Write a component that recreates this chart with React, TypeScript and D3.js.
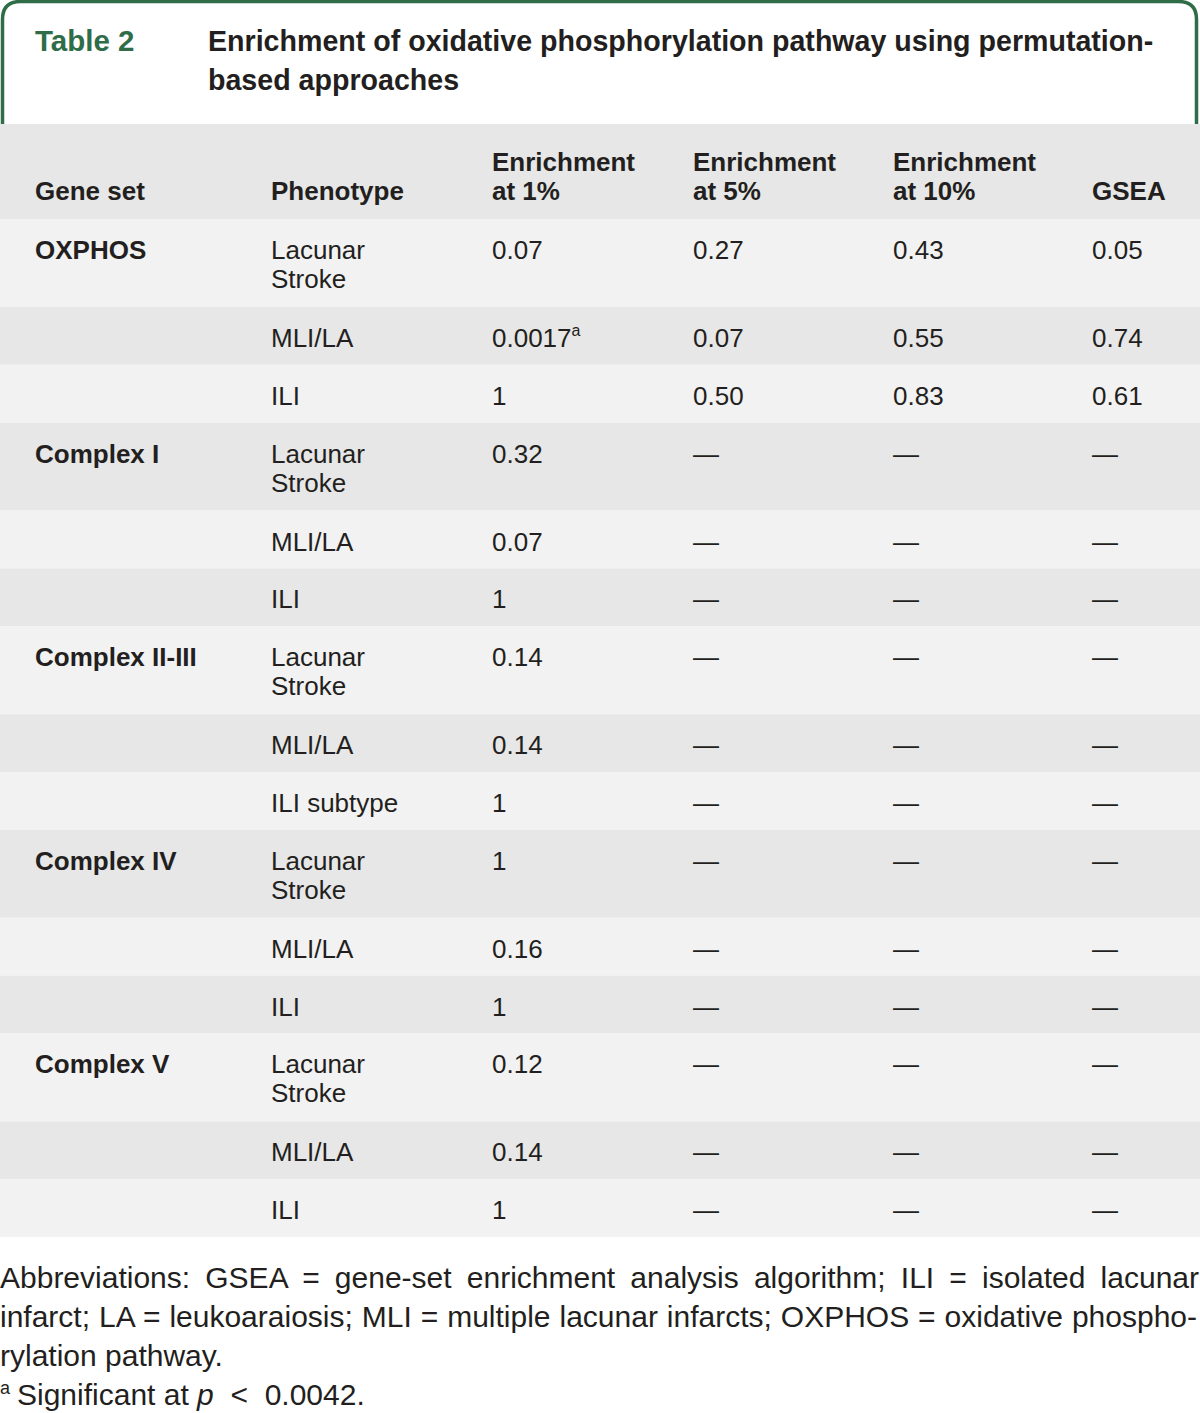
import React, { useEffect, useRef } from "react";
import * as d3 from "d3";

const titleLabel = "Table 2";
const titleLines = [
  "Enrichment of oxidative phosphorylation pathway using permutation-",
  "based approaches",
];

const headers = [
  ["Gene set"],
  ["Phenotype"],
  ["Enrichment", "at 1%"],
  ["Enrichment", "at 5%"],
  ["Enrichment", "at 10%"],
  ["GSEA"],
];

const geneSets = ["OXPHOS", "", "", "Complex I", "", "", "Complex II-III", "", "", "Complex IV", "", "", "Complex V", "", ""];
const phenotypes = [
  "Lacunar\nStroke", "MLI/LA", "ILI",
  "Lacunar\nStroke", "MLI/LA", "ILI",
  "Lacunar\nStroke", "MLI/LA", "ILI subtype",
  "Lacunar\nStroke", "MLI/LA", "ILI",
  "Lacunar\nStroke", "MLI/LA", "ILI",
];
const enrich1 = ["0.07", "0.0017", "1", "0.32", "0.07", "1", "0.14", "0.14", "1", "1", "0.16", "1", "0.12", "0.14", "1"];
const enrich1Notes = ["", "a", "", "", "", "", "", "", "", "", "", "", "", "", ""];
const enrich5 = ["0.27", "0.07", "0.50", "—", "—", "—", "—", "—", "—", "—", "—", "—", "—", "—", "—"];
const enrich10 = ["0.43", "0.55", "0.83", "—", "—", "—", "—", "—", "—", "—", "—", "—", "—", "—", "—"];
const gsea = ["0.05", "0.74", "0.61", "—", "—", "—", "—", "—", "—", "—", "—", "—", "—", "—", "—"];

const footLines = [
  "Abbreviations: GSEA = gene-set enrichment analysis algorithm; ILI = isolated lacunar",
  "infarct; LA = leukoaraiosis; MLI = multiple lacunar infarcts; OXPHOS = oxidative phospho-",
  "rylation pathway.",
];

const FONT = "'Liberation Sans', Arial, Helvetica, sans-serif";
const INK = "#231f20";
const GREEN = "#2e6d48";

const W = 1200;
const H = 1413;
const tableTop = 124;
const headerH = 95;
const lineH = 29;
const footSize = 30;

function JustifiedLine({ text, x, y, width, justify }: { text: string; x: number; y: number; width: number; justify: boolean }) {
  const ref = useRef<SVGTextElement>(null);
  useEffect(() => {
    if (!justify || !ref.current) return;
    const el = d3.select(ref.current);
    el.attr("word-spacing", 0);
    const natural = ref.current.getComputedTextLength();
    const gaps = text.split(" ").length - 1;
    el.attr("word-spacing", (width - natural) / gaps);
  }, [text, width, justify]);
  return (
    <text ref={ref} x={x} y={y} fontSize={footSize} fill={INK} fontFamily={FONT} style={{ whiteSpace: "pre" }}>
      {text}
    </text>
  );
}

export default function App() {
  useEffect(() => {
    document.body.style.margin = "0";
  }, []);

  const cols = ["gene", "phenotype", "e1", "e5", "e10", "gsea"];
  const x = d3.scaleOrdinal<string, number>().domain(cols).range([35, 271, 492, 693, 893, 1092]);

  const rowHeights = phenotypes.map((p) => (p.includes("\n") ? 88 : 57.8));
  const starts = [0, ...Array.from(d3.cumsum(rowHeights))];
  const y = (i: number) => tableTop + headerH + starts[i];
  const tableBottom = y(phenotypes.length);

  const cellText = (value: string, cx: number, cy: number, bold = false, note = "") => {
    const lines = value.split("\n");
    return (
      <text x={cx} y={cy} fontSize={26} fontWeight={bold ? "bold" : "normal"} fill={INK} fontFamily={FONT}>
        {lines.map((l, k) => (
          <tspan key={k} x={cx} dy={k === 0 ? 0 : lineH}>
            {l}
          </tspan>
        ))}
        {note && (
          <tspan fontSize={16} dy={-11}>
            {note}
          </tspan>
        )}
      </text>
    );
  };

  const r = 18;
  const boxPath = `M2.5,${tableTop} V${1.5 + r} Q2.5,1.5 ${2.5 + r},1.5 H${1196.5 - r} Q1196.5,1.5 1196.5,${1.5 + r} V${tableTop}`;

  return (
    <svg width={W} height={H} style={{ display: "block", background: "#fff" }}>
      <path d={boxPath} fill="none" stroke={GREEN} strokeWidth={3.5} />
      <text x={35} y={51} fontSize={29.5} fontWeight="bold" fill={GREEN} fontFamily={FONT}>
        {titleLabel}
      </text>
      {titleLines.map((t, i) => (
        <text key={i} x={208} y={51 + i * 39} fontSize={28.6} fontWeight="bold" fill={INK} fontFamily={FONT}>
          {t}
        </text>
      ))}

      <rect x={0} y={tableTop} width={W} height={headerH} fill="#e6e7e6" />
      {headers.map((h, c) => (
        <text key={c} x={x(cols[c])} y={200 - (h.length - 1) * lineH} fontSize={26} fontWeight="bold" fill={INK} fontFamily={FONT}>
          {h.map((l, k) => (
            <tspan key={k} x={x(cols[c])} dy={k === 0 ? 0 : lineH}>
              {l}
            </tspan>
          ))}
        </text>
      ))}

      {phenotypes.map((p, i) => {
        const top = y(i);
        const base = top + 40;
        return (
          <g key={i}>
            <rect x={0} y={top} width={W} height={rowHeights[i]} fill={i % 2 === 0 ? "#f2f2f2" : "#e6e7e6"} />
            {geneSets[i] && cellText(geneSets[i], x("gene"), base, true)}
            {cellText(p, x("phenotype"), base)}
            {cellText(enrich1[i], x("e1"), base, false, enrich1Notes[i])}
            {cellText(enrich5[i], x("e5"), base)}
            {cellText(enrich10[i], x("e10"), base)}
            {cellText(gsea[i], x("gsea"), base)}
          </g>
        );
      })}

      {footLines.map((t, i) => (
        <JustifiedLine key={i} text={t} x={0} y={tableBottom + 51 + i * 39} width={i === 0 ? 1199 : 1197} justify={i < 2} />
      ))}
      <text x={0} y={tableBottom + 51 + 3 * 39} fontSize={footSize} fill={INK} fontFamily={FONT} style={{ whiteSpace: "pre" }}>
        <tspan fontSize={18} dy={-11}>a</tspan>
        <tspan x={17} dy={11}>Significant at </tspan>
        <tspan fontStyle="italic">p</tspan>
        <tspan>{"  <  0.0042."}</tspan>
      </text>
    </svg>
  );
}
